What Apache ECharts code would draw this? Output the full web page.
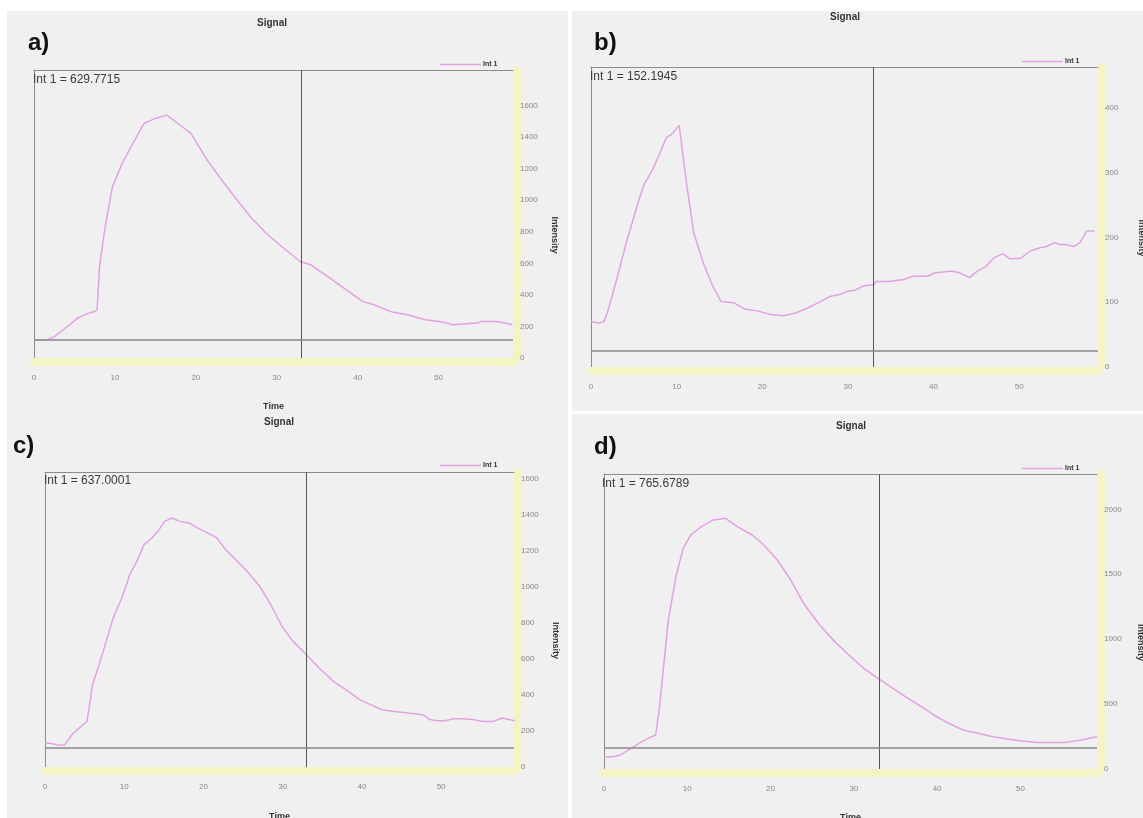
<!DOCTYPE html>
<html>
<head>
<meta charset="utf-8">
<script src="https://cdn.jsdelivr.net/npm/echarts@6/dist/echarts.min.js"></script>
<style>
html,body{margin:0;padding:0;background:#fff;}
#chart{width:1143px;height:818px;}
</style>
</head>
<body>
<div id="chart"></div>
<script>
// ---- data ----
const panelLetters = ['a)', 'b)', 'c)', 'd)'];
const intLabels = ['Int 1 = 629.7715', 'Int 1 = 152.1945', 'Int 1 = 637.0001', 'Int 1 = 765.6789'];
const xTicks = [0, 10, 20, 30, 40, 50];
const yTicksA = [0, 200, 400, 600, 800, 1000, 1200, 1400, 1600];
const yTicksB = [0, 100, 200, 300, 400];
const yTicksC = [0, 200, 400, 600, 800, 1000, 1200, 1400, 1600];
const yTicksD = [0, 500, 1000, 1500, 2000];
const yTicks = [yTicksA, yTicksB, yTicksC, yTicksD];
const cursorTime = [33, 33, 33, 33];
const baseline = [116, 25, 109, 164];
const yMax = [1826, 463, 1637, 2272];

const tA = [0, 1.7, 2.5, 3.6, 4.5, 5.4, 6.5, 7.5, 7.8, 8.1, 8.8, 9.7, 10.9, 12.0, 13.6, 15.0, 16.4, 17.5, 19.4, 21.4, 23.2, 25.1, 26.9, 28.7, 30.6, 32.9, 34.2, 36.0, 38.3, 40.6, 42.0, 44.3, 46.1, 48.4, 50.7, 51.8, 53.4, 54.8, 55.3, 57.1, 58.2, 59.1];
const vA = [112, 118, 135, 179, 215, 253, 280, 295, 306, 580, 833, 1086, 1234, 1340, 1487, 1519, 1540, 1498, 1424, 1255, 1129, 1002, 886, 791, 707, 612, 591, 527, 443, 359, 338, 291, 274, 243, 226, 211, 217, 222, 232, 232, 222, 211];

const tB = [0, 0.9, 1.5, 1.9, 3.0, 4.1, 5.6, 6.2, 7.3, 8.8, 9.4, 10.3, 11.2, 12.0, 13.1, 14.2, 15.2, 16.7, 18.0, 19.3, 21.0, 22.5, 23.8, 25.3, 26.8, 27.9, 29.0, 30.0, 30.9, 31.8, 33.0, 33.3, 34.8, 36.5, 37.6, 39.3, 40.1, 42.1, 43.1, 44.2, 45.1, 46.1, 47.0, 48.1, 48.9, 50.2, 51.3, 52.4, 53.2, 54.1, 54.7, 55.4, 56.4, 57.1, 57.9, 58.8];
const vB = [70, 68, 70, 83, 135, 191, 258, 282, 307, 354, 359, 373, 279, 207, 161, 125, 101, 99, 89, 87, 81, 79, 83, 91, 101, 109, 112, 117, 119, 125, 127, 132, 132, 135, 140, 140, 145, 148, 145, 138, 148, 155, 168, 175, 167, 168, 179, 184, 186, 192, 189, 189, 186, 192, 210, 210];

const tC = [0, 0.8, 1.8, 2.5, 3.4, 4.4, 5.3, 5.5, 6.0, 6.7, 7.6, 8.6, 9.7, 10.7, 11.6, 12.5, 13.5, 14.4, 15.1, 16.1, 17.0, 18.2, 19.3, 20.5, 21.7, 22.8, 24.3, 25.7, 27.1, 28.5, 29.9, 31.3, 33.0, 34.6, 36.4, 38.3, 39.7, 41.1, 42.5, 43.9, 45.8, 47.7, 48.6, 49.5, 50.5, 51.6, 52.8, 54.0, 55.2, 56.6, 57.7, 59.3];
const vC = [133, 130, 120, 124, 179, 220, 253, 309, 457, 549, 679, 827, 938, 1067, 1141, 1234, 1271, 1317, 1363, 1382, 1363, 1354, 1326, 1299, 1271, 1206, 1141, 1077, 1003, 901, 781, 697, 623, 549, 475, 420, 374, 346, 318, 309, 300, 290, 263, 257, 257, 268, 268, 263, 253, 253, 272, 257];

const tD = [0, 1.1, 2.0, 2.9, 4.2, 5.3, 6.2, 6.6, 7.1, 7.7, 8.6, 9.5, 10.4, 11.7, 13.1, 14.6, 16.0, 17.8, 19.2, 20.8, 22.3, 24.1, 25.9, 27.7, 29.4, 31.2, 32.9, 34.7, 36.5, 38.1, 39.6, 41.4, 43.1, 44.9, 46.7, 48.5, 50.2, 52.0, 53.8, 55.5, 57.3, 59.2];
const vD = [95, 95, 108, 146, 198, 236, 262, 442, 750, 1135, 1469, 1700, 1802, 1866, 1918, 1931, 1866, 1802, 1725, 1610, 1469, 1263, 1109, 981, 878, 775, 698, 621, 544, 480, 416, 352, 300, 275, 249, 231, 216, 205, 205, 205, 223, 249];

const times = [tA, tB, tC, tD];
const values = [vA, vB, vC, vD];

// ---- layout ----
const grids = [
  {left: 34, top: 70, width: 479, height: 288},
  {left: 591, top: 67, width: 507, height: 300},
  {left: 45, top: 472, width: 469, height: 295},
  {left: 604, top: 474, width: 493, height: 295}
];
const titlePos = [[272, 18], [845, 12], [279, 417], [851, 421]];
const letterPos = [[28, 43], [594, 43], [13, 446], [594, 447]];
const intPos = [[33, 80], [590, 77], [44, 481], [602, 484]];
const legendPos = [[440, 61], [1022, 58], [440, 462], [1022, 465]];
const yNameGap = [33, 35, 33, 35];
const xNameGap = [40, 40, 41, 40];
const showXName = [true, false, true, true];

const LINE = '#e2a2e2';
const BAND = '#f3f3c4';
const FRAME = '#8c8c8c';
const FONT = '"Liberation Sans", Arial, sans-serif';

const chart = echarts.init(document.getElementById('chart'), null, {renderer: 'canvas'});

const mainX = grids.map((g, i) => ({
  type: 'value', gridIndex: i, min: 0, max: 59.2, interval: 10, offset: 4,
  name: showXName[i] ? 'Time' : '', nameLocation: 'middle', nameGap: xNameGap[i],
  nameTextStyle: {fontSize: 9, fontWeight: 'bold', color: '#333'},
  axisLine: {show: true, onZero: false, lineStyle: {color: BAND, width: 8}},
  axisTick: {show: false},
  splitLine: {show: false},
  axisLabel: {fontSize: 8, color: '#888', margin: 12, customValues: xTicks,
    formatter: v => String(v)}
}));
const frameX = grids.map((g, i) => ({
  type: 'value', gridIndex: i, position: 'top', min: 0, max: 59.2,
  axisLine: {show: true, onZero: false, lineStyle: {color: FRAME, width: 1}},
  axisTick: {show: false}, axisLabel: {show: false}, splitLine: {show: false}
}));
const mainY = grids.map((g, i) => ({
  type: 'value', gridIndex: i, position: 'right', min: 0, max: yMax[i], offset: 4,
  name: 'Intensity', nameLocation: 'middle', nameGap: yNameGap[i], nameRotate: -90,
  nameTextStyle: {fontSize: 9, fontWeight: 'bold', color: '#333', padding: [0, 0, 0, 42]},
  axisLine: {show: true, onZero: false, lineStyle: {color: BAND, width: 8}},
  axisTick: {show: false},
  splitLine: {show: false},
  axisLabel: {fontSize: 8, color: '#888', margin: 3, customValues: yTicks[i],
    formatter: v => String(v)}
}));
const frameY = grids.map((g, i) => ({
  type: 'value', gridIndex: i, position: 'left', min: 0, max: yMax[i],
  axisLine: {show: true, onZero: false, lineStyle: {color: FRAME, width: 1}},
  axisTick: {show: false}, axisLabel: {show: false}, splitLine: {show: false}
}));

const option = {
  backgroundColor: '#ffffff',
  animation: false,
  textStyle: {fontFamily: FONT},
  title: titlePos.map(p => ({
    text: 'Signal', left: p[0], top: p[1], textAlign: 'center', padding: 0,
    textStyle: {fontSize: 10, fontWeight: 'bold', color: '#333', fontFamily: FONT}
  })),
  legend: legendPos.map(p => ({
    data: ['Int 1'], left: p[0], top: p[1], padding: 0, selectedMode: false,
    icon: 'rect', itemWidth: 41, itemHeight: 1.5, itemGap: 0,
    textStyle: {fontSize: 7, fontWeight: 'bold', color: '#333', padding: [0, 0, 0, -3]}
  })),
  grid: grids.map(g => Object.assign({show: false, containLabel: false, outerBoundsMode: 'none'}, g)),
  xAxis: mainX.concat(frameX),
  yAxis: mainY.concat(frameY),
  series: times.map((t, i) => ({
    name: 'Int 1', type: 'line', xAxisIndex: i, yAxisIndex: i,
    data: t.map((x, k) => [x, values[i][k]]),
    showSymbol: false, symbol: 'none', smooth: false,
    lineStyle: {color: LINE, width: 1.5}, itemStyle: {color: LINE},
    markLine: {
      silent: true, symbol: 'none', label: {show: false},
      data: [
        {xAxis: cursorTime[i], lineStyle: {color: '#555', width: 1, type: 'solid'}},
        {yAxis: baseline[i], lineStyle: {color: '#8a8a8a', width: 1.5, type: 'solid'}}
      ]
    }
  })),
  graphic: [
    {type: 'rect', z: -10, shape: {x: 7, y: 11, width: 561, height: 807}, style: {fill: '#f0f0f0'}},
    {type: 'rect', z: -10, shape: {x: 572, y: 11, width: 571, height: 400}, style: {fill: '#f0f0f0'}},
    {type: 'rect', z: -10, shape: {x: 572, y: 414, width: 571, height: 404}, style: {fill: '#f0f0f0'}}
  ].concat(letterPos.map((p, i) => ({
    type: 'text', x: p[0], y: p[1], z: 10,
    style: {text: panelLetters[i], fill: '#111', fontSize: 24, fontWeight: 'bold', fontFamily: FONT, verticalAlign: 'middle'}
  }))).concat(intPos.map((p, i) => ({
    type: 'text', x: p[0], y: p[1], z: 10,
    style: {text: intLabels[i], fill: '#3a3a3a', fontSize: 12, fontFamily: FONT, verticalAlign: 'middle'}
  })))
};
chart.setOption(option);
</script>
</body>
</html>
